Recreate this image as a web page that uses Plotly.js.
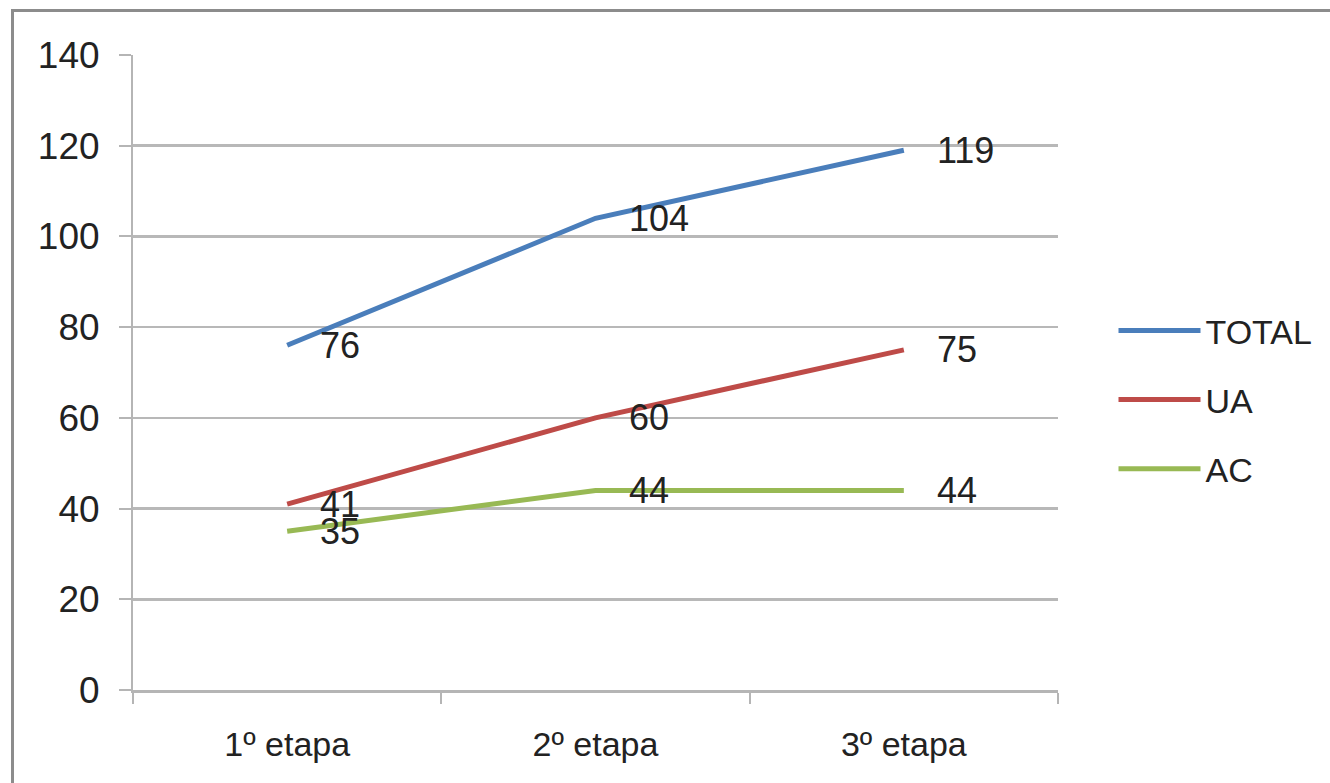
<!DOCTYPE html>
<html>
<head>
<meta charset="utf-8">
<script src="https://cdn.plot.ly/plotly-3.0.1.min.js"></script>
<style>
  html, body { margin: 0; padding: 0; background: #fff; }
  #wrap { position: relative; width: 1330px; height: 783px; overflow: hidden; }
  #chart { position: absolute; left: 0; top: 0; width: 1330px; height: 783px; }
  #frame { position: absolute; left: 11px; top: 9px; width: 1400px; height: 900px;
           border-top: 3px solid #8c8c8c; border-left: 3px solid #8c8c8c; pointer-events: none; }
</style>
</head>
<body>
<div id="wrap">
  <div id="chart"></div>
  <div id="frame"></div>
</div>
<script>
const categories = ['1º etapa', '2º etapa', '3º etapa'];
const seriesNames = ['TOTAL', 'UA', 'AC'];
const totalValues = [76, 104, 119];
const uaValues = [41, 60, 75];
const acValues = [35, 44, 44];
const yTicks = [0, 20, 40, 60, 80, 100, 120, 140];

const seriesValues = [totalValues, uaValues, acValues];
const colors = ['#4a7ebb', '#be4b48', '#98b954'];
const FONT = 'Liberation Sans, Arial, sans-serif';

const traces = seriesNames.map((name, k) => ({
  type: 'scatter',
  mode: 'lines',
  name: name,
  x: categories,
  y: seriesValues[k],
  legendgroup: name,
  line: { color: colors[k], width: 5 },
  hoverinfo: 'skip'
}));

const annotations = [];
seriesValues.forEach((vals) => {
  vals.forEach((v, i) => {
    annotations.push({
      x: categories[i], y: v, xref: 'x', yref: 'y',
      text: String(v), showarrow: false,
      xanchor: 'left', yanchor: 'middle', xshift: 31, yshift: 0,
      font: { family: FONT, size: 36, color: '#222' }
    });
  });
});

const layout = {
  width: 1330, height: 783,
  margin: { l: 133, r: 266, t: 55, b: 93 },
  paper_bgcolor: 'rgba(0,0,0,0)',
  plot_bgcolor: 'rgba(0,0,0,0)',
  showlegend: true,
  legend: {
    x: 1.06, xanchor: 'left', y: 0.457, yanchor: 'middle',
    font: { family: FONT, size: 34, color: '#222' },
    traceorder: 'grouped', tracegroupgap: 22,
    itemwidth: 82, bgcolor: 'rgba(0,0,0,0)'
  },
  xaxis: {
    type: 'category',
    range: [-0.5, 2.5],
    tickson: 'boundaries',
    ticks: 'outside', ticklen: 11, tickwidth: 2, tickcolor: '#b5b5b5',
    showgrid: false, showline: true, linecolor: '#b5b5b5', linewidth: 3,
    zeroline: false,
    ticklabelstandoff: 22,
    tickfont: { family: FONT, size: 34, color: '#222' },
    fixedrange: true
  },
  yaxis: {
    range: [0, 140],
    tickvals: yTicks,
    ticktext: yTicks.map(String),
    ticks: 'outside', ticklen: 12, tickwidth: 2, tickcolor: '#b5b5b5',
    showgrid: true, gridcolor: '#b8b8b8', gridwidth: 2.5,
    showline: true, linecolor: '#b5b5b5', linewidth: 2,
    zeroline: false,
    ticklabelstandoff: 12,
    tickfont: { family: FONT, size: 37, color: '#222' },
    fixedrange: true
  },
  annotations: annotations
};

Plotly.newPlot('chart', traces, layout, { displayModeBar: false, staticPlot: true });
</script>
</body>
</html>
